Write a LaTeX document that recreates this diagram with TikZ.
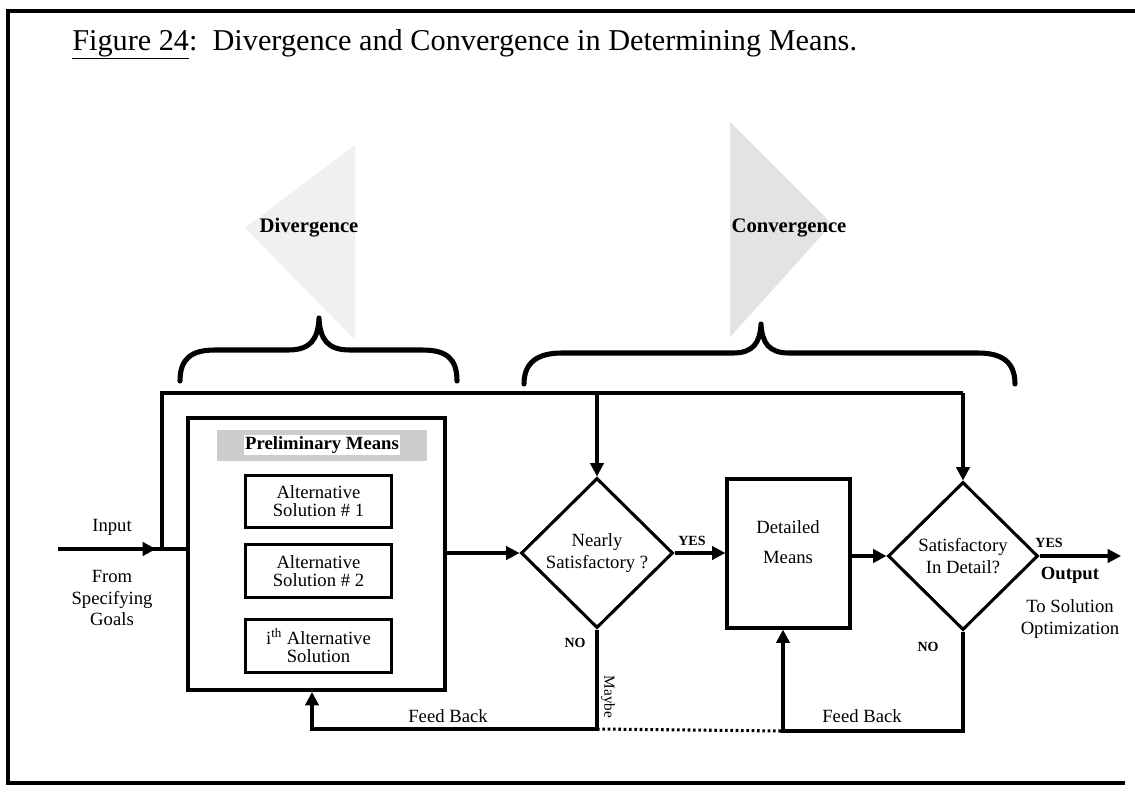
\documentclass[tikz,border=0pt]{standalone}
\usepackage{fontspec}
\setmainfont{Liberation Serif}
\usetikzlibrary{arrows.meta,shapes.geometric}

\begin{document}
\begin{tikzpicture}[x=0.75pt,y=-0.75pt,
  line/.style={line width=2.3pt},
  arr/.style={line width=2.3pt,-{Triangle[length=10pt,width=10pt]}},
  dotline/.style={line width=2.3pt,dash pattern=on 2pt off 2pt},
  brace/.style={line width=3.8pt,line cap=round,line join=round},
  frame/.style={line width=3pt},
  lbl/.style={font=\fontsize{14}{16}\selectfont,align=center,inner sep=0pt},
  tag/.style={font=\fontsize{10.5}{12}\selectfont\bfseries,inner sep=0pt},
  heading/.style={font=\fontsize{15.5}{18}\selectfont\bfseries,inner sep=0pt},
  altbox/.style={draw,line width=2.4pt,minimum width=110pt,minimum height=39.5pt,
    align=center,font=\fontsize{14}{13.5}\selectfont,inner sep=0pt},
  decision/.style={draw,diamond,line width=2.3pt,inner sep=0pt,align=center,
    font=\fontsize{14}{16.5}\selectfont},
]
\useasboundingbox (0,0) rectangle (1135,797);

% outer frame
\draw[frame] (1135,11) -- (8,11) -- (8,783) -- (1125,783);

% title
\node[anchor=base west,font=\fontsize{22.7}{27}\selectfont,inner sep=0pt] (title) at (72,50)
  {\underline{Figure 24}:\ \ Divergence and Convergence in Determining Means.};

% stippled wedges behind the phase headings
\fill[black!6] (245,228) -- (355,145) -- (355,340) -- cycle;
\fill[black!11] (730,122) -- (832,224) -- (730,337) -- cycle;
\node[heading] (div) at (309,228) {Divergence};
\node[heading] (conv) at (789,228) {Convergence};

% braces
\draw[brace] (180,381) .. controls (180,358) and (192,350) .. (215,350) -- (288,350)
  .. controls (310,350) and (318,340) .. (319,318)
  .. controls (320,340) and (328,350) .. (350,350) -- (422,350)
  .. controls (446,350) and (457,358) .. (457,381);
\draw[brace] (524,384) .. controls (524,362) and (538,353) .. (562,353) -- (733,353)
  .. controls (753,353) and (760,343) .. (761,324)
  .. controls (762,343) and (769,353) .. (789,353) -- (978,353)
  .. controls (1002,353) and (1015,362) .. (1015,384);

% preliminary means block
\node[draw,line width=3pt,minimum width=192.75pt,minimum height=204pt,inner sep=0pt]
  (prelim) at (316.5,554) {};
\fill[black!20] (217,430) rectangle (427,461);
\node[font=\fontsize{14}{16}\selectfont\bfseries,fill=white,inner sep=1pt] (prelimtxt) at (322,445)
  {Preliminary Means};
\node[altbox] (alt1) at (318.5,501.5) {Alternative\\Solution \# 1};
\node[altbox] (alt2) at (318.5,571) {Alternative\\Solution \# 2};
\node[altbox] (alt3) at (318.5,646) {i\textsuperscript{th} Alternative\\Solution};

% decisions and detailed means
\node[decision,minimum width=114pt,minimum height=112.5pt] (d1) at (597,553)
  {Nearly\\Satisfactory ?};
\node[draw,line width=2.4pt,minimum width=92.25pt,minimum height=111.75pt,inner sep=0pt]
  (detailed) at (788.5,553.5) {};
\node[lbl,font=\fontsize{14}{22.5}\selectfont] (detailedtxt) at (788,542) {Detailed\\Means};
\node[decision,minimum width=112.5pt,minimum height=111pt] (d2) at (963,556)
  {Satisfactory\\In Detail?};

% input side
\coordinate (inl) at (58,549);
\coordinate (inhead) at (156,549);
\coordinate (jn) at (162,549);
\coordinate (tl) at (162,393);
\coordinate (tr) at (963,393);
\draw[line] (inl) -- (inl -| prelim.west);
\draw[arr] (inl) -- (inhead);
\draw[line] (jn) -- (tl) -- (tr);
\draw[arr] (tr) -- (d2.north);
\draw[arr] (d1.north |- tl) -- (d1.north);
\node[lbl] (input) at (112,527) {Input};
\node[lbl] (from) at (112,598) {From\\Specifying\\Goals};

% main flow
\draw[arr] (prelim.east |- d1.west) -- (d1.west);
\draw[arr] (d1.east) -- (detailed.west |- d1.east);
\draw[arr] (detailed.east |- d2.west) -- (d2.west);
\coordinate (out) at (1121,556);
\draw[arr] (d2.east) -- (out);

\node[tag] (yes1) at (692,541) {YES};
\node[tag] (yes2) at (1049,543) {YES};
\node[tag] (no1) at (575,643) {NO};
\node[tag] (no2) at (928,647) {NO};
\node[lbl,font=\fontsize{14}{16}\selectfont\bfseries] (output) at (1070,575) {Output};
\node[lbl,font=\fontsize{14}{16.5}\selectfont] (target) at (1070,619) {To Solution\\Optimization};

% feedback loops
\coordinate (fbl) at (597,729);
\coordinate (fbx) at (312,729);
\coordinate (fbr) at (963,731);
\coordinate (fbm) at (783,731);
\draw[arr] (d1.south) -- (fbl) -- (fbx) -- (fbx |- prelim.south);
\draw[arr] (d2.south) -- (fbr) -- (fbm) -- (fbm |- detailed.south);
\draw[dotline] (fbl) -- (fbm);
\node[lbl] (fb1) at (448,716) {Feed Back};
\node[lbl] (fb2) at (862,716) {Feed Back};
\node[rotate=-90,font=\fontsize{11.5}{12}\selectfont,inner sep=0pt] (maybe) at (608,697) {Maybe};
\end{tikzpicture}
\end{document}
